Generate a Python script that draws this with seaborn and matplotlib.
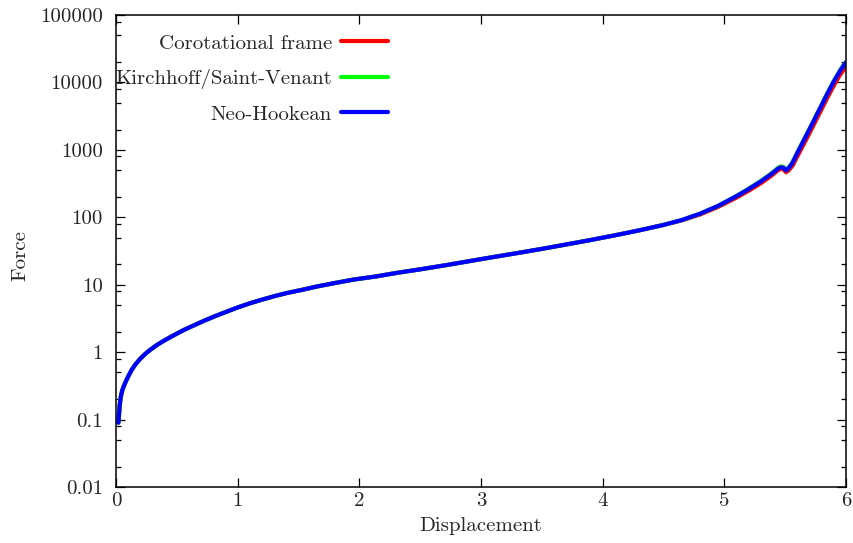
import matplotlib
matplotlib.use("Agg")
import matplotlib.pyplot as plt
import numpy as np
import pandas as pd
import seaborn as sns
from matplotlib.ticker import LogLocator, NullFormatter

# Shared part of the load curve (the three material models coincide here)
disp_head = [0.02, 0.025, 0.03, 0.035, 0.04, 0.05, 0.06, 0.074, 0.09, 0.11,
             0.13, 0.16, 0.20, 0.24, 0.28, 0.34, 0.40, 0.47, 0.55, 0.63,
             0.72, 0.82, 0.92, 1.00, 1.10, 1.20, 1.30, 1.40, 1.53, 1.65,
             1.80, 1.95, 2.13, 2.30, 2.50, 2.72, 2.90, 3.10, 3.30, 3.50,
             3.70, 3.90, 4.10, 4.30, 4.50]
force_head = [0.09, 0.12, 0.16, 0.19, 0.22, 0.265, 0.30, 0.345, 0.40, 0.47,
              0.55, 0.66, 0.80, 0.94, 1.08, 1.29, 1.5, 1.76, 2.1, 2.45,
              2.9, 3.45, 4.05, 4.6, 5.3, 6.0, 6.75, 7.5, 8.4, 9.4,
              10.6, 11.9, 13.2, 14.9, 16.9, 19.6, 22.3, 25.7, 29.5, 34.0,
              39.5, 46.0, 54.0, 64.0, 77.0]

# Large-displacement part, where the models separate slightly
disp_tail = [4.65, 4.80, 4.95, 5.10, 5.20, 5.30, 5.38, 5.44, 5.46, 5.485,
             5.507, 5.53, 5.56, 5.60, 5.65, 5.70, 5.75, 5.80, 5.85, 5.90,
             5.95, 6.00]
tail_corotational = [90, 110, 143, 196, 248, 320, 405, 497, 522, 518,
                     465, 500, 580, 800, 1190, 1770, 2680, 4030, 6100, 9000,
                     12900, 17100]
tail_kirchhoff = [91, 113, 148, 207, 266, 346, 438, 538, 566, 560,
                  505, 552, 655, 915, 1375, 2060, 3110, 4700, 7130, 10550,
                  15100, 20300]
tail_neohookean = [91, 113, 148, 206, 262, 340, 430, 525, 550, 545,
                   495, 540, 640, 900, 1350, 2020, 3050, 4610, 6980, 10330,
                   14760, 19950]

models = ["Corotational frame", "Kirchhoff/Saint-Venant", "Neo-Hookean"]
colors = ["#ff0000", "#00ff00", "#0000ff"]

y_ticks = [0.01, 0.1, 1, 10, 100, 1000, 10000, 100000]
y_tick_labels = ["0.01", "0.1", "1", "10", "100", "1000", "10000", "100000"]
x_ticks = [0, 1, 2, 3, 4, 5, 6]

frames = []
for name, tail in zip(models, [tail_corotational, tail_kirchhoff, tail_neohookean]):
    frames.append(pd.DataFrame({
        "Displacement": disp_head + disp_tail,
        "Force": force_head + tail,
        "model": name,
    }))
data = pd.concat(frames, ignore_index=True)

sns.set_style("ticks")
plt.rcParams["font.family"] = ["cmr10", "DejaVu Serif"]
plt.rcParams["mathtext.fontset"] = "cm"
plt.rcParams["axes.formatter.use_mathtext"] = True
plt.rcParams["axes.unicode_minus"] = False

text_color = "#262626"
fs = 15

fig = plt.figure(figsize=(8.54, 5.43), dpi=100)
ax = fig.add_axes([116 / 854, 1 - 487 / 543, 730 / 854, 472 / 543])

sns.lineplot(data=data, x="Displacement", y="Force", hue="model",
             hue_order=models, palette=colors, sort=False, estimator=None,
             linewidth=3.0, ax=ax, legend=False)
for line in ax.get_lines():
    line.set_solid_joinstyle("round")
    line.set_solid_capstyle("round")

ax.set_yscale("log")
ax.set_xlim(0, 6)
ax.set_ylim(0.01, 100000)

ax.set_xticks(x_ticks)
ax.set_xticklabels([str(t) for t in x_ticks])
ax.set_yticks(y_ticks)
ax.set_yticklabels(y_tick_labels)
ax.yaxis.set_minor_locator(LogLocator(base=10, subs=[2, 5, 8], numticks=20))
ax.yaxis.set_minor_formatter(NullFormatter())
ax.xaxis.set_minor_locator(plt.NullLocator())

ax.tick_params(axis="both", which="major", direction="in", length=6.5,
               width=0.9, top=True, right=True, labelsize=fs,
               labelcolor=text_color, color="black")
ax.tick_params(axis="y", which="major", pad=9.5)
ax.tick_params(axis="x", which="major", pad=4)
ax.tick_params(axis="y", which="minor", direction="in", length=3.6,
               width=0.9, right=True, color="black")
for spine in ax.spines.values():
    spine.set_linewidth(1.1)
    spine.set_color("black")

ax.set_xlabel("Displacement", fontsize=fs, color=text_color)
ax.set_ylabel("Force", fontsize=fs, color=text_color)
ax.xaxis.set_label_coords(0.5, -0.064)
ax.yaxis.set_label_coords(-0.118, 0.49)

handles = ax.get_lines()[:3]
leg = ax.legend(handles, models, loc="upper right",
                bbox_to_anchor=(0.3726, 0.9598), frameon=False,
                markerfirst=False, fontsize=fs, handlelength=2.26,
                handletextpad=0.43, labelspacing=0.78, borderpad=0,
                borderaxespad=0)
for t in leg.get_texts():
    t.set_color(text_color)

fig.savefig("out.png", dpi=100)
